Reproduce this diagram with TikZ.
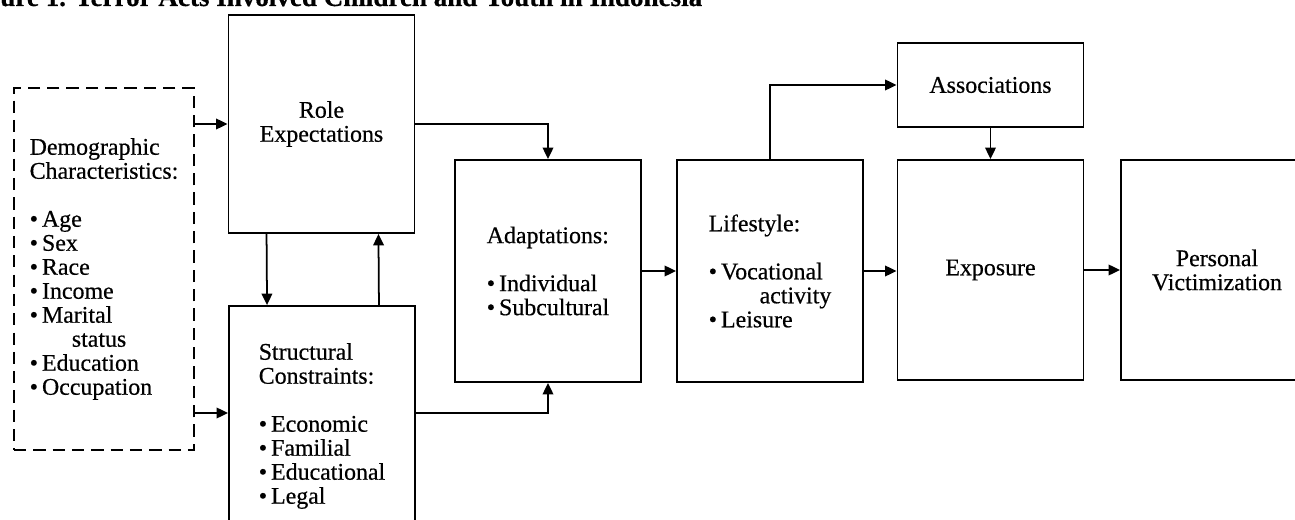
\documentclass[tikz,border=0pt]{standalone}
\usepackage{fontspec}
\setmainfont{Liberation Serif}[FakeBold=0.5]
\usetikzlibrary{arrows.meta}

\newcommand{\itm}{\textbullet\,}

\begin{document}
\begin{tikzpicture}[
        x = 0.02cm, y = -0.02cm,
        >={Triangle[length=6.5pt, width=6pt]},
        block/.style = {
            draw, line width = 1.1pt,
            align = left, inner sep = 0pt,
            minimum width = 3.72cm,
            minimum height = 4.4cm,
            font = \fontsize{13.6}{13.66}\selectfont,
        },
        wire/.style = {->, line width = 1pt},
        ]
        \useasboundingbox (0,0) rectangle (1295,520);

        % Titel
        \node[anchor = base west, inner sep = 0pt, font = \fontsize{15.4}{17}\selectfont\bfseries] (title) at (0,6)
            {ure 1. Terror Acts Involved Children and Youth in Indonesia};

        % Blokken
        \node[block, dash pattern = on 7pt off 4pt, line width = 1.5pt,
            minimum width = 3.6cm, minimum height = 7.24cm] (demo) at (104,269)
            {Demographic\\Characteristics:\\[13.66pt]
             \itm Age\\ \itm Sex\\ \itm Race\\ \itm Income\\ \itm Marital\\
             \hspace{24pt}status\\ \itm Education\\ \itm Occupation};
        \node[block, align = center, minimum height = 4.36cm] (role) at (321.5,124) {Role\\Expectations};
        \node[block, minimum height = 4.8cm] (struct) at (322,426)
            {Structural\\Constraints:\\[13.66pt]
             \itm Economic\\ \itm Familial\\ \itm Educational\\ \itm Legal};
        \node[block, minimum height = 4.44cm] (adapt) at (548,271)
            {Adaptations:\\[13.66pt] \itm Individual\\ \itm Subcultural};
        \node[block, minimum height = 4.44cm] (life) at (770,271)
            {Lifestyle:\\[13.66pt] \itm Vocational\\ \hspace{29pt}activity\\ \itm Leisure};
        \node[block, minimum height = 1.68cm] (assoc) at (990.5,85) {Associations};
        \node[block, align = center] (expo) at (990.5,270) {Exposure};
        \node[block, align = center, minimum width = 3.84cm] (vict) at (1217,270) {Personal\\Victimization};

        % Verbindingen
        \draw[wire] (demo.east |- role.west) -- (role.west);
        \draw[wire] (demo.east |- 0,413) -- (struct.west |- 0,413);
        \draw[wire] ([xshift=0.78cm]role.south west) -- ([xshift=0.78cm]struct.north west);
        \draw[wire] ([xshift=-0.74cm]struct.north east) -- ([xshift=-0.74cm]role.south east);
        \draw[wire] (role.east) -| (adapt.north);
        \draw[wire] (struct.east |- 0,413) -| (adapt.south);
        \draw[wire] (life.north) |- (assoc.west);

        \path
            [wire]
            (adapt.east) edge (life.west)
            (assoc.south) edge (expo.north)
            (life.east) edge (expo.west |- life.east)
            (expo.east) edge (vict.west);
\end{tikzpicture}
\end{document}
